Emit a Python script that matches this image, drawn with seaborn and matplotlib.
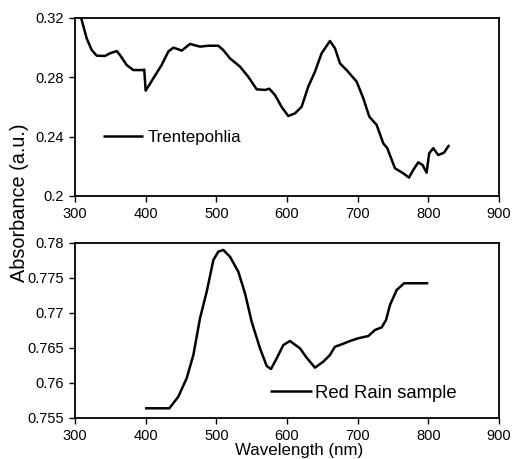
import numpy as np
import pandas as pd
import matplotlib
matplotlib.use("Agg")
import matplotlib.pyplot as plt
import seaborn as sns

# Trentepohlia spectrum
trent_wl = [308.5, 309.4, 316.5, 323.6, 330.7, 342.4, 349.5, 359.0, 363.7, 373.1, 382.5, 396.7,
            398.0, 400.0, 410.8, 422.6, 432.0, 439.1, 446.2, 451.0, 462.7, 476.9, 488.6, 502.8,
            509.8, 519.3, 533.5, 545.2, 557.1, 568.9, 575.0, 583.0, 592.5, 601.8, 611.3, 620.8,
            630.1, 639.6, 649.0, 660.8, 667.9, 675.0, 684.4, 698.6, 708.0, 716.5, 726.9, 736.3,
            742.0, 752.8, 764.6, 772.6, 778.7, 785.8, 791.9, 797.6, 801.3, 807.0, 814.1, 822.2,
            829.7]
trent_abs = [0.3205, 0.3187, 0.3063, 0.2984, 0.2946, 0.2944, 0.2962, 0.2977, 0.2950, 0.2883,
             0.2849, 0.2849, 0.2852, 0.2710, 0.2793, 0.2883, 0.2973, 0.3000, 0.2989, 0.2980,
             0.3025, 0.3007, 0.3013, 0.3013, 0.2984, 0.2928, 0.2872, 0.2804, 0.2719, 0.2715,
             0.2723, 0.2681, 0.2600, 0.2539, 0.2557, 0.2602, 0.2737, 0.2838, 0.2962, 0.3045,
             0.2996, 0.2894, 0.2849, 0.2771, 0.2659, 0.2535, 0.2479, 0.2355, 0.2322, 0.2187,
             0.2153, 0.2124, 0.2175, 0.2227, 0.2209, 0.2157, 0.2288, 0.2322, 0.2276, 0.2292,
             0.2344]

# Red rain sample spectrum
rain_wl = [399.0, 433.5, 446.2, 458.0, 467.5, 476.9, 486.4, 495.8, 502.8, 509.9, 519.3, 531.1,
           540.6, 550.0, 561.8, 571.3, 577.4, 585.4, 594.8, 604.2, 618.4, 627.8, 639.6, 651.4,
           660.8, 667.9, 677.4, 689.2, 701.0, 715.2, 724.6, 734.1, 740.2, 745.8, 755.3, 765.7,
           800.0]
rain_abs = [0.75632, 0.75632, 0.75798, 0.76062, 0.76395, 0.76921, 0.77303, 0.77756, 0.77876,
            0.77900, 0.77804, 0.77589, 0.77279, 0.76873, 0.76491, 0.76238, 0.76195, 0.76347,
            0.76538, 0.76596, 0.76491, 0.76357, 0.76214, 0.76300, 0.76395, 0.76514, 0.76548,
            0.76596, 0.76635, 0.76668, 0.76754, 0.76792, 0.76897, 0.77112, 0.77327, 0.77423,
            0.77423]

top_yticks = [0.2, 0.24, 0.28, 0.32]
top_ytick_labels = ["0.2", "0.24", "0.28", "0.32"]
bot_yticks = [0.755, 0.76, 0.765, 0.77, 0.775, 0.78]
bot_ytick_labels = ["0.755", "0.76", "0.765", "0.77", "0.775", "0.78"]
xticks = [300, 400, 500, 600, 700, 800, 900]

sns.set_style("white")
plt.rcParams['font.family'] = ['Liberation Sans', 'DejaVu Sans']
plt.rcParams['text.color'] = 'black'
plt.rcParams['axes.labelcolor'] = 'black'

fig = plt.figure(figsize=(5.12, 4.59), dpi=100)
ax1 = fig.add_axes([0.1465, 0.573, 0.828, 0.3878])
ax2 = fig.add_axes([0.1465, 0.0904, 0.828, 0.3802])

df1 = pd.DataFrame({"wl": trent_wl, "abs": trent_abs})
df2 = pd.DataFrame({"wl": rain_wl, "abs": rain_abs})

sns.lineplot(data=df1, x="wl", y="abs", ax=ax1, color="black", linewidth=1.8,
             label="Trentepohlia", solid_joinstyle="round", solid_capstyle="butt")
sns.lineplot(data=df2, x="wl", y="abs", ax=ax2, color="black", linewidth=1.8,
             label="Red Rain sample", solid_joinstyle="round", solid_capstyle="butt")

for ax in (ax1, ax2):
    ax.set_xlim(300, 900)
    ax.set_xticks(xticks)
    ax.set_xticklabels([str(t) for t in xticks])
    ax.set_xlabel("")
    ax.set_ylabel("")
    for s in ax.spines.values():
        s.set_visible(True)
        s.set_color("black")
        s.set_linewidth(1.3)
    ax.tick_params(axis="both", direction="out", length=4, width=1, colors="black",
                   labelsize=10.5, pad=4, left=True, bottom=True)

ax1.set_ylim(0.2, 0.32)
ax1.set_yticks(top_yticks)
ax1.set_yticklabels(top_ytick_labels)
ax2.set_ylim(0.755, 0.78)
ax2.set_yticks(bot_yticks)
ax2.set_yticklabels(bot_ytick_labels)

ax1.legend(loc="center left", bbox_to_anchor=(0.066, 0.331), frameon=False, fontsize=12.2,
           handlelength=2.35, handletextpad=0.3, borderpad=0, borderaxespad=0,
           labelcolor="black")
ax2.legend(loc="center left", bbox_to_anchor=(0.46, 0.14), frameon=False, fontsize=13.3,
           handlelength=2.27, handletextpad=0.17, borderpad=0, borderaxespad=0,
           labelcolor="black")

fig.text(0.039, 0.5577, "Absorbance (a.u.)", rotation=90, ha="center", va="center",
         fontsize=14.3, color="black")
fig.text(0.585, 0.034, "Wavelength (nm)", ha="center", va="top", fontsize=12.2,
         color="black")

fig.savefig("out.png", dpi=100)
